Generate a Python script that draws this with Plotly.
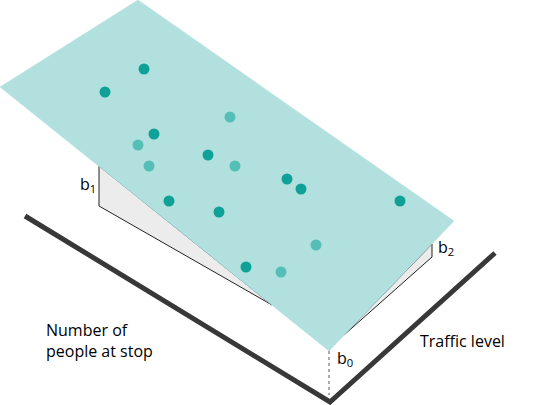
import plotly.graph_objects as go

# Regression plane (picture coordinates, y downward)
plane_x = [138, 454, 329, 0, 138]
plane_y = [0, 221, 351, 87, 0]

# Observations
dark_x = [144, 105, 154, 208, 287, 301, 400, 169, 219, 246]
dark_y = [69, 92, 134, 155, 179, 189, 201, 201, 212, 267]
light_x = [230, 138, 149, 235, 316, 281]
light_y = [117, 145, 166, 166, 245, 272]

# Axes of the predictors
axis_x = [25, 330, 495]
axis_y = [216, 402, 253]

# Coefficient wedges
b1_x = [99, 99, 272, 99]
b1_y = [166, 206, 305, 166]
b2_x = [432, 432, 344, 432]
b2_y = [244, 257, 335, 244]
b0_x = [329, 329]
b0_y = [351, 395]

fig = go.Figure()

fig.add_trace(go.Scatter(x=axis_x, y=axis_y, mode="lines",
                         line=dict(color="#383838", width=5), hoverinfo="skip"))
fig.add_trace(go.Scatter(x=b1_x, y=b1_y, mode="lines", fill="toself",
                         fillcolor="#ececec", line=dict(color="#222", width=1), hoverinfo="skip"))
fig.add_trace(go.Scatter(x=b2_x, y=b2_y, mode="lines", fill="toself",
                         fillcolor="#ececec", line=dict(color="#222", width=1), hoverinfo="skip"))
fig.add_trace(go.Scatter(x=b0_x, y=b0_y, mode="lines",
                         line=dict(color="#555", width=1, dash="dot"), hoverinfo="skip"))
fig.add_trace(go.Scatter(x=plane_x, y=plane_y, mode="lines", fill="toself",
                         fillcolor="#b2e0de", line=dict(color="#b2e0de", width=0.5), hoverinfo="skip"))
fig.add_trace(go.Scatter(x=light_x, y=light_y, mode="markers",
                         marker=dict(color="#55bfb7", size=11, line=dict(width=0))))
fig.add_trace(go.Scatter(x=dark_x, y=dark_y, mode="markers",
                         marker=dict(color="#0fa197", size=11, line=dict(width=0))))

font = dict(family="Open Sans", size=16, color="#000")
annotations = [
    dict(x=88, y=184, text="b<sub>1</sub>", xanchor="center", yanchor="middle"),
    dict(x=446, y=247, text="b<sub>2</sub>", xanchor="center", yanchor="middle"),
    dict(x=345, y=358, text="b<sub>0</sub>", xanchor="center", yanchor="middle"),
    dict(x=418, y=341, text="Traffic level", xanchor="left", yanchor="middle"),
    dict(x=44, y=340, text="Number of<br>people at stop", xanchor="left", yanchor="middle", align="left"),
]
for a in annotations:
    a.update(xref="x", yref="y", showarrow=False, font=font)

fig.update_layout(
    width=551, height=405,
    margin=dict(l=0, r=0, t=0, b=0),
    paper_bgcolor="white", plot_bgcolor="white",
    showlegend=False,
    xaxis=dict(range=[0, 551], visible=False, fixedrange=True),
    yaxis=dict(range=[405, 0], visible=False, fixedrange=True),
    annotations=annotations,
)

fig.write_html("out.html", config={"displayModeBar": False},
               post_script="document.body.style.margin='0';document.body.style.overflow='hidden';")
